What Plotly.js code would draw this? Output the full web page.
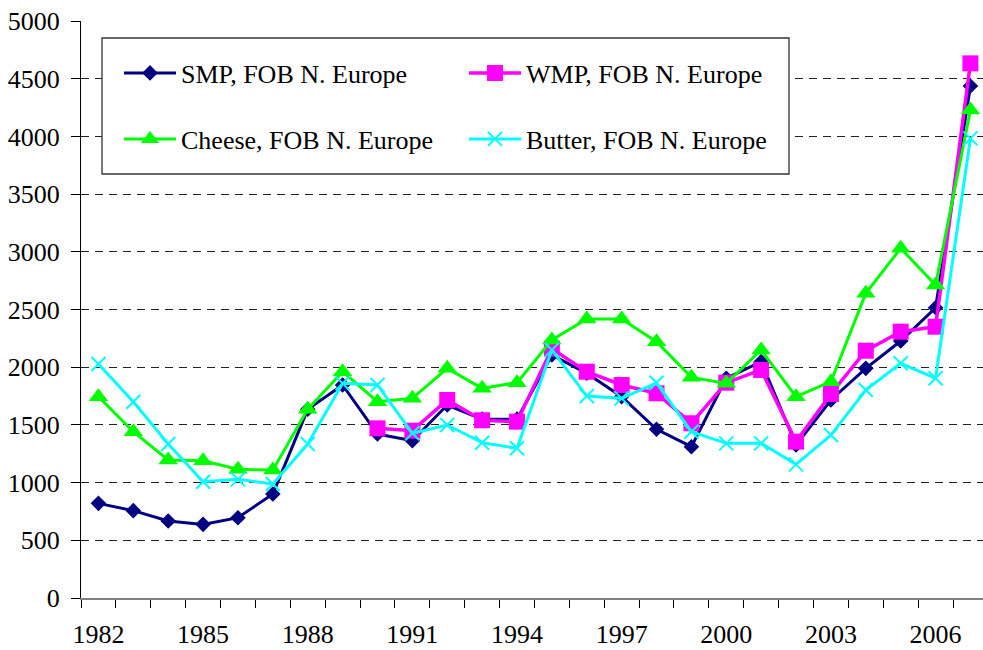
<!DOCTYPE html>
<html><head><meta charset="utf-8">
<script src="https://cdn.plot.ly/plotly-3.0.1.min.js"></script>
<style>html,body{margin:0;padding:0;background:#fff;}#chart{width:983px;height:650px;}
#chart text{font-family:'Liberation Serif' !important;}</style>
</head><body><div id="chart"></div>
<script>
const years = [1982,1983,1984,1985,1986,1987,1988,1989,1990,1991,1992,1993,1994,1995,1996,1997,1998,1999,2000,2001,2002,2003,2004,2005,2006,2007];
const smp = [820,757,667,638,696,901,1635,1846,1421,1363,1672,1550,1550,2106,1947,1745,1462,1311,1904,2048,1326,1716,1990,2227,2515,4437];
const wmp = [null,null,null,null,null,null,null,null,1470,1450,1716,1540,1528,2160,1961,1846,1774,1514,1866,1976,1355,1768,2143,2308,2351,4633];
const cheese = [1745,1441,1196,1190,1115,1109,1635,1961,1701,1730,1990,1817,1866,2236,2418,2418,2221,1912,1860,2149,1745,1874,2640,3030,2712,4229];
const butter = [2028,1701,1334,1008,1028,988,1334,1860,1846,1427,1499,1346,1297,2150,1750,1730,1865,1441,1340,1340,1158,1412,1802,2034,1904,3983];
const xTickYears = [1982,1985,1988,1991,1994,1997,2000,2003,2006];
const xTickText = ["1982","1985","1988","1991","1994","1997","2000","2003","2006"];
const seriesNames = ["SMP, FOB N. Europe","WMP, FOB N. Europe","Cheese, FOB N. Europe","Butter, FOB N. Europe"];

const boundaries = years.map(y => y - 0.5).concat([years[years.length-1] + 0.5]);
const FONT = 'Liberation Serif';

const traces = [
  {x: years, y: smp, name: seriesNames[0], type:'scatter', mode:'lines+markers', legend:'legend',
   line:{color:'#000080', width:3}, marker:{symbol:'diamond', size:12, color:'#000080'}},
  {x: years, y: wmp, name: seriesNames[1], type:'scatter', mode:'lines+markers', legend:'legend',
   line:{color:'#FF00FF', width:3.5}, marker:{symbol:'square', size:16, color:'#FF00FF'}},
  {x: years, y: cheese, name: seriesNames[2], type:'scatter', mode:'lines+markers', legend:'legend2',
   line:{color:'#00FF00', width:3}, marker:{symbol:'triangle-up', size:17, color:'#00FF00'}},
  {x: years, y: butter, name: seriesNames[3], type:'scatter', mode:'lines+markers', legend:'legend2',
   line:{color:'#00FFFF', width:3}, marker:{symbol:'x-thin', size:14, color:'#00FFFF', line:{color:'#00FFFF', width:2}}}
];

const L = 81, R = 983, T = 21, B = 598;
const px2x = p => (p - L) / (R - L);
const px2y = p => (B - p) / (B - T);

const legendCommon = {
  orientation:'h', entrywidth:278, entrywidthmode:'pixels', itemwidth:52,
  bgcolor:'rgba(0,0,0,0)', borderwidth:0, xanchor:'left', yanchor:'middle',
  font:{family:FONT, size:26, color:'#000'}
};

const layout = {
  width:983, height:650,
  margin:{l:L, r:0, t:T, b:650-B, pad:0},
  paper_bgcolor:'#fff', plot_bgcolor:'#fff',
  font:{family:FONT, size:26, color:'#000'},
  showlegend:true,
  xaxis:{range:[1981.5, 2007.36], tickmode:'array', tickvals:xTickYears, ticktext:xTickText,
    ticks:'', showgrid:false, zeroline:false, showline:true, linecolor:'#808080', linewidth:2,
    minor:{tickmode:'array', tickvals:boundaries, ticks:'outside', ticklen:8, tickcolor:'#000', tickwidth:1, showgrid:false},
    ticklabelstandoff:12, tickfont:{family:FONT, size:26, color:'#000'}},
  yaxis:{range:[0,5000], tickmode:'linear', tick0:0, dtick:500, showgrid:true, gridcolor:'#222',
    griddash:'8px,6px', gridwidth:1, zeroline:false, showline:true, linecolor:'#000', linewidth:1,
    ticks:'outside', ticklen:9, tickcolor:'#000', tickwidth:1, ticklabelstandoff:6, tickfont:{family:FONT, size:26, color:'#000'}},
  legend: Object.assign({}, legendCommon, {x:px2x(119), y:px2y(73)}),
  legend2: Object.assign({}, legendCommon, {x:px2x(119), y:px2y(139)}),
  shapes:[{type:'rect', xref:'paper', yref:'paper', x0:px2x(102), x1:px2x(789), y0:px2y(174), y1:px2y(38),
    line:{color:'#333', width:1.3}, fillcolor:'#fff', layer:'above'}]
};

Plotly.newPlot('chart', traces, layout, {staticPlot:true, displayModeBar:false});
</script>
</body></html>
